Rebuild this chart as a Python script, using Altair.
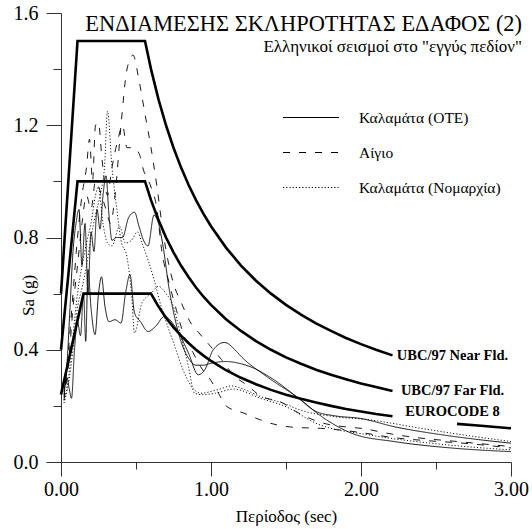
import altair as alt
import pandas as pd

FONT = "Liberation Serif"

# ---------------- recorded spectra (T [sec], Sa [g]) ----------------
stations = ["Καλαμάτα (OTE)", "Αίγιο", "Καλαμάτα (Νομαρχία)"]

ote1_T = [0.02,0.04,0.055,0.07,0.09,0.11,0.13,0.15,0.165,0.18,0.2,0.227,0.25,0.27,0.293,0.32,0.36,0.4,0.43,0.46,0.49,0.53,0.58,0.63,0.69,0.76,0.85,0.915,0.96,1.015,1.09,1.17,1.205,1.37,1.57,1.77,1.95,2.22,2.6,3.0]
ote1_Sa = [0.24,0.3,0.26,0.227,0.4,0.5,0.45,0.6,0.43,0.686,0.55,0.454,0.6,0.66,0.555,0.5,0.507,0.495,0.6,0.668,0.531,0.5,0.465,0.483,0.519,0.483,0.388,0.311,0.33,0.4,0.426,0.394,0.374,0.305,0.233,0.15,0.1,0.073,0.05,0.037]

ote2_T = [0.02,0.04,0.06,0.08,0.1,0.12,0.14,0.16,0.18,0.2,0.22,0.24,0.26,0.28,0.3,0.32,0.34,0.37,0.41,0.45,0.49,0.52,0.55,0.58,0.62,0.65,0.68,0.72,0.76,0.8,0.85,0.9,0.95,1.0,1.1,1.2,1.26,1.4,1.57,1.7,1.82,2.0,2.22,2.5,2.75,3.0]
ote2_Sa = [0.25,0.35,0.55,0.75,0.85,0.9,0.7,0.85,0.6,0.82,0.75,0.9,0.83,0.95,1.02,0.88,0.79,0.8,0.8,0.87,0.89,0.84,0.79,0.77,0.88,0.85,0.77,0.62,0.51,0.43,0.37,0.345,0.345,0.352,0.358,0.35,0.34,0.3,0.233,0.18,0.165,0.155,0.126,0.1,0.082,0.067]

aig1_T = [0.02,0.05,0.08,0.11,0.14,0.17,0.2,0.23,0.27,0.3,0.33,0.36,0.4,0.44,0.48,0.52,0.56,0.6,0.64,0.68,0.72,0.76,0.8,0.86,0.92,1.0,1.07,1.15,1.25,1.33,1.46,1.6,1.75,1.9,2.0,2.2,2.4,2.6,2.8,3.0]
aig1_Sa = [0.22,0.35,0.55,0.7,0.85,0.95,0.9,1.0,0.95,0.9,0.85,0.95,1.2,1.4,1.45,1.36,1.24,1.12,0.98,0.82,0.7,0.62,0.57,0.5,0.46,0.41,0.365,0.31,0.27,0.235,0.215,0.17,0.138,0.125,0.12,0.1,0.085,0.075,0.065,0.055]

aig2_T = [0.02,0.05,0.08,0.11,0.14,0.17,0.19,0.21,0.23,0.25,0.27,0.29,0.31,0.34,0.38,0.41,0.44,0.48,0.52,0.55,0.6,0.64,0.67,0.72,0.77,0.82,0.88,0.93,1.0,1.05,1.1,1.22,1.33,1.44,1.57,1.73,2.0,2.2,2.44,2.66,3.0]
aig2_Sa = [0.23,0.4,0.6,0.8,0.95,1.05,1.15,1.0,1.2,1.21,1.1,1.0,0.95,1.05,1.15,1.2,1.12,1.12,1.1,1.04,0.98,0.9,0.76,0.64,0.54,0.45,0.39,0.34,0.29,0.245,0.2,0.174,0.15,0.132,0.123,0.12,0.105,0.088,0.076,0.068,0.05]

nom1_T = [0.02,0.05,0.08,0.11,0.14,0.17,0.2,0.23,0.26,0.29,0.31,0.34,0.37,0.4,0.44,0.47,0.49,0.54,0.6,0.65,0.7,0.74,0.8,0.85,0.89,0.94,1.03,1.15,1.33,1.5,1.7,2.06,2.5,3.0]
nom1_Sa = [0.21,0.28,0.4,0.55,0.62,0.7,0.8,0.88,0.95,1.05,1.25,1.05,0.91,0.79,0.73,0.6,0.46,0.567,0.6,0.626,0.6,0.567,0.448,0.34,0.245,0.24,0.245,0.26,0.227,0.197,0.138,0.096,0.065,0.043]

nom2_T = [0.02,0.05,0.08,0.11,0.14,0.17,0.2,0.23,0.25,0.28,0.31,0.34,0.39,0.43,0.47,0.51,0.54,0.58,0.62,0.67,0.72,0.76,0.82,0.89,0.93,1.04,1.14,1.215,1.33,1.48,1.59,1.82,2.06,2.4,2.7,3.0]
nom2_Sa = [0.22,0.3,0.45,0.6,0.7,0.78,0.85,0.95,0.98,0.85,0.78,0.77,0.84,0.78,0.79,0.82,0.78,0.72,0.65,0.55,0.47,0.41,0.32,0.257,0.245,0.257,0.271,0.26,0.233,0.21,0.186,0.162,0.15,0.12,0.095,0.073]

# ---------------- design spectra ----------------
near_T = [0,0.11,0.56,0.6,0.65,0.7,0.75,0.8,0.85,0.9,0.95,1.0,1.1,1.2,1.3,1.4,1.5,1.6,1.7,1.8,1.9,2.0,2.1,2.21]
near_Sa = [0.6,1.5,1.5,1.4,1.292,1.2,1.12,1.05,0.988,0.933,0.884,0.84,0.764,0.7,0.646,0.6,0.56,0.525,0.494,0.467,0.442,0.42,0.4,0.38]
far_T = [0,0.11,0.56,0.6,0.65,0.7,0.75,0.8,0.85,0.9,0.95,1.0,1.1,1.2,1.3,1.4,1.5,1.6,1.7,1.8,1.9,2.0,2.1,2.21]
far_Sa = [0.4,1.0,1.0,0.933,0.862,0.8,0.747,0.7,0.659,0.622,0.589,0.56,0.509,0.467,0.431,0.4,0.373,0.35,0.329,0.311,0.295,0.28,0.267,0.253]
ec8a_T = [0,0.15,0.6,0.65,0.7,0.75,0.8,0.85,0.9,0.95,1.0,1.1,1.2,1.3,1.4,1.5,1.6,1.7,1.8,1.9,2.0,2.1,2.21]
ec8a_Sa = [0.24,0.6,0.6,0.554,0.514,0.48,0.45,0.424,0.4,0.379,0.36,0.327,0.3,0.277,0.257,0.24,0.225,0.212,0.2,0.189,0.18,0.171,0.163]
ec8b_T = [2.64,2.8,3.0]
ec8b_Sa = [0.136,0.129,0.12]

code_labels = ["UBC/97 Near Fld.", "UBC/97 Far Fld.", "EUROCODE 8"]
code_label_T = [2.61, 2.61, 2.61]
code_label_Sa = [0.379, 0.254, 0.179]

title_lines = ["ΕΝΔΙΑΜΕΣΗΣ ΣΚΛΗΡΟΤΗΤΑΣ ΕΔΑΦΟΣ (2)", "Ελληνικοί σεισμοί στο \"εγγύς πεδίον\""]

# ---------------- tables ----------------
rec_rows = []
for st, comp, Ts, Ss in [
    (stations[0], "ote1", ote1_T, ote1_Sa), (stations[0], "ote2", ote2_T, ote2_Sa),
    (stations[1], "aig1", aig1_T, aig1_Sa), (stations[1], "aig2", aig2_T, aig2_Sa),
    (stations[2], "nom1", nom1_T, nom1_Sa), (stations[2], "nom2", nom2_T, nom2_Sa)]:
    for t, s in zip(Ts, Ss):
        rec_rows.append({"station": st, "series": comp, "T": t, "Sa": s})
rec_df = pd.DataFrame(rec_rows)

des_rows = []
for seg, Ts, Ss in [("near", near_T, near_Sa), ("far", far_T, far_Sa),
                    ("ec8a", ec8a_T, ec8a_Sa), ("ec8b", ec8b_T, ec8b_Sa)]:
    for t, s in zip(Ts, Ss):
        des_rows.append({"seg": seg, "T": t, "Sa": s})
des_df = pd.DataFrame(des_rows)

lab_df = pd.DataFrame({"label": code_labels, "T": code_label_T, "Sa": code_label_Sa})

xs = alt.Scale(domain=[0, 3], nice=False, zero=False)
ys = alt.Scale(domain=[0, 1.6], nice=False, zero=False)
AX = "#333333"

x_main = alt.Axis(values=[0, 1, 2, 3], format=".2f", tickSize=14, labelFontSize=20,
                  labelPadding=3, labelFont=FONT, labelColor="black", domainColor=AX,
                  tickColor=AX, grid=False, title="Περίοδος (sec)", titleFont=FONT,
                  titleFontSize=17, titleFontWeight="normal", titleColor="black",
                  titleBaseline="middle", titleY=54, labelFlush=False)
y_main = alt.Axis(values=[0, 0.4, 0.8, 1.2, 1.6], format=".1f", tickSize=15,
                  labelFontSize=20, labelPadding=8, labelFont=FONT, labelColor="black",
                  domainColor=AX, tickColor=AX, grid=False, title="Sa (g)", titleFont=FONT,
                  titleFontSize=17, titleFontWeight="normal", titleColor="black",
                  titleX=-33, titleY=282, titleAlign="center", titleBaseline="middle",
                  titleAngle=270, labelFlush=False)
x_minor = alt.Axis(values=[0.5, 1.5, 2.5], tickSize=7, labels=False, domain=False,
                   tickColor=AX, grid=False, title=None, orient="bottom")
y_minor = alt.Axis(values=[0.2, 0.6, 1.0, 1.4], tickSize=8, labels=False, domain=False,
                   tickColor=AX, grid=False, title=None, orient="left")

records = alt.Chart(rec_df).mark_line(color="black", strokeWidth=0.9,
                                      interpolate="monotone").encode(
    x=alt.X("T:Q", scale=xs, axis=x_main),
    y=alt.Y("Sa:Q", scale=ys, axis=y_main),
    strokeDash=alt.StrokeDash(
        "station:N",
        scale=alt.Scale(domain=stations, range=[[1, 0], [7, 9], [1.2, 2]]),
        legend=alt.Legend(title=None, orient="none", legendX=221, legendY=87,
                          symbolType="stroke", symbolSize=3136, symbolStrokeWidth=1.1,
                          symbolStrokeColor="black", labelFont=FONT, labelFontSize=15.5,
                          labelColor="black", labelOffset=19, rowPadding=0,
                          clipHeight=35, padding=0)),
    detail="series:N",
)

design = alt.Chart(des_df).mark_line(color="black", strokeWidth=2.6).encode(
    x=alt.X("T:Q", scale=xs, axis=x_minor),
    y=alt.Y("Sa:Q", scale=ys, axis=y_minor),
    detail="seg:N",
)

labels = alt.Chart(lab_df).mark_text(font=FONT, fontSize=14.5, fontWeight="bold",
                                     align="center", baseline="middle",
                                     color="black").encode(
    x=alt.X("T:Q", scale=xs, axis=None),
    y=alt.Y("Sa:Q", scale=ys, axis=None),
    text="label:N",
)

t1 = alt.Chart(pd.DataFrame({"t": [title_lines[0]]})).mark_text(
    font=FONT, fontSize=22.4, align="right", baseline="alphabetic", color="black").encode(
    x=alt.value(461), y=alt.value(18), text="t:N")
t2 = alt.Chart(pd.DataFrame({"t": [title_lines[1]]})).mark_text(
    font=FONT, fontSize=17, align="right", baseline="alphabetic", color="black").encode(
    x=alt.value(461), y=alt.value(39), text="t:N")

chart = alt.layer(records, design, labels, t1, t2).resolve_axis(
    x="independent", y="independent"
).properties(
    width=450, height=449,
    autosize=alt.AutoSizeParams(type="none"),
    padding={"left": 61, "top": 13, "right": 21, "bottom": 67},
).configure_view(stroke=None)

chart.save("out.html", embed_options={"renderer": "svg", "actions": False})
